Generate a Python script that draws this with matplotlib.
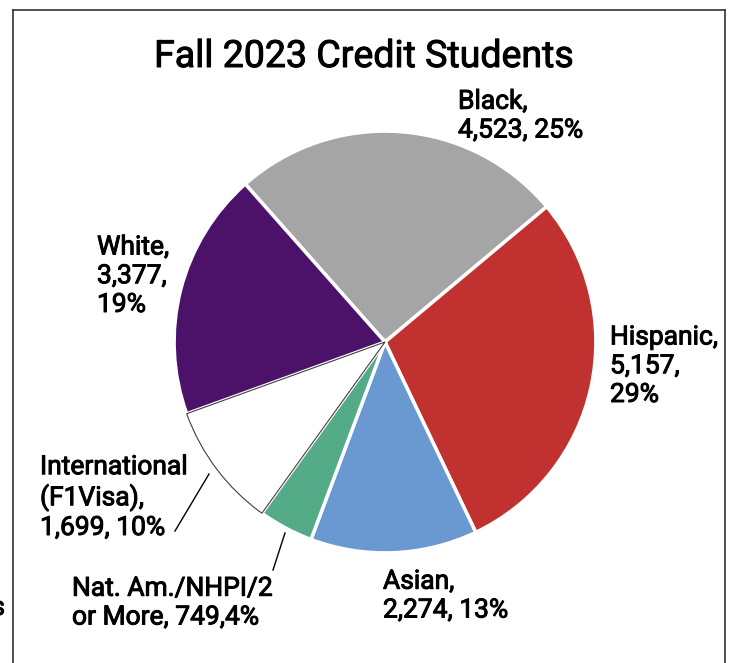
import matplotlib.pyplot as plt
import matplotlib.patheffects as pe
from matplotlib.lines import Line2D

# data
groups = ['Black', 'Hispanic', 'Asian', 'Nat. Am./NHPI/2 or More', 'International (F1Visa)', 'White']
counts = [4523, 5157, 2274, 749, 1699, 3377]
colors = ['#a5a5a5', '#c0312f', '#6a98d1', '#54ab87', '#ffffff', '#4c1168']
label_texts = ['Black,\n4,523, 25%', 'Hispanic,\n5,157,\n29%', 'Asian,\n2,274, 13%',
               'Nat. Am./NHPI/2\nor More, 749,4%', 'International\n(F1Visa),\n1,699, 10%',
               'White,\n3,377,\n19%']
# label anchor (left x, first baseline y) in pixels
label_pos = [(458, 108), (610, 343), (383, 588), (72, 595), (40, 476), (97, 253)]

W, H = 739, 663
LINE = 29.5
plt.rcParams['font.family'] = ['Roboto', 'DejaVu Sans']
fig = plt.figure(figsize=(W / 100, H / 100), dpi=100)

cx, cy, r = 385, 342, 213
ax = fig.add_axes([(cx - r) / W, (H - cy - r) / H, 2 * r / W, 2 * r / H])
wedges, _ = ax.pie(counts, colors=colors, startangle=131.5, counterclock=False,
                   radius=1, wedgeprops=dict(edgecolor='white', linewidth=2.5))
# international slice gets a thin dark outline
wedges[4].set_edgecolor('#404040')
wedges[4].set_linewidth(0.8)
wedges[4].set_zorder(5)
ax.set_xlim(-1.01, 1.01)
ax.set_ylim(-1.01, 1.01)
ax.set_aspect('equal')
ax.axis('off')

def px(x, y):
    return x / W, 1 - y / H

bold = [pe.withStroke(linewidth=0.7, foreground='black')]

fig.text(*px(364, 67), 'Fall 2023 Credit Students', ha='center', va='baseline',
         fontsize=27, path_effects=bold)

for txt, (x, y) in zip(label_texts, label_pos):
    n = txt.count('\n')
    fig.text(*px(x, y + n * LINE), txt, ha='left', va='baseline', fontsize=19,
             linespacing=1.25, path_effects=bold)

# leader lines
for (x0, y0), (x1, y1) in [((175, 531), (209, 474)), ((273, 570), (285, 533))]:
    fig.add_artist(Line2D([x0 / W, x1 / W], [1 - y0 / H, 1 - y1 / H], color='black', lw=1))

# frame
for xs, ys in [([13, 13], [10, H]), ([13, 725], [10, 10]), ([725, 725], [10, H])]:
    fig.add_artist(Line2D([x / W for x in xs], [1 - y / H for y in ys], color='#333333', lw=1.2))

fig.text(*px(5, 615), 's', ha='right', va='baseline', fontsize=19, path_effects=bold)

fig.savefig('out.png', dpi=100)
